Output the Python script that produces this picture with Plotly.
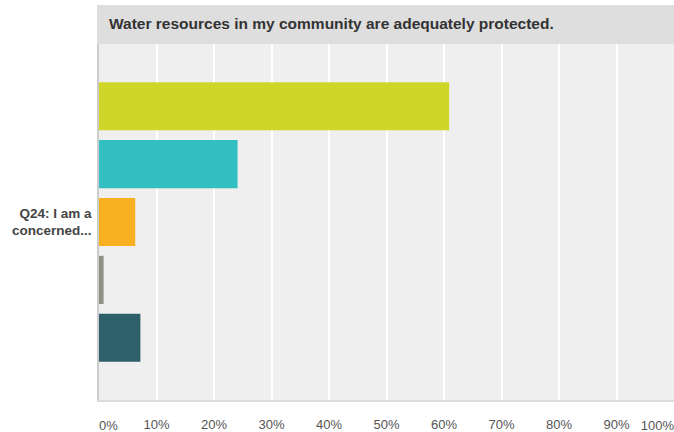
import plotly.graph_objects as go

# ---- data ----
question = "Q24: I am a<br>concerned..."
answer_names = ["Answer 1", "Answer 2", "Answer 3", "Answer 4", "Answer 5"]
values = [60.9, 24.1, 6.3, 0.8, 7.2]
colors = ["#CFD62A", "#33BEC0", "#F8B020", "#8F9182", "#2E606C"]
title_text = "Water resources in my community are adequately protected."
grid_vals = [0, 10, 20, 30, 40, 50, 60, 70, 80, 90, 100]
mid_labels = ["", "10%", "20%", "30%", "40%", "50%", "60%", "70%", "80%", "90%", ""]
first_tick, first_label = 0, "0%"
last_tick, last_label = 100, "100%"

W, H = 674, 432
L, R, T, B = 99, 0, 44, 32
plot_w = W - L - R
plot_h = H - T - B

FONT = "Liberation Sans, Arial, Helvetica, sans-serif"
tickfont = dict(family=FONT, size=13, color="#555555")

fig = go.Figure()
for name, v, c in zip(answer_names, values, colors):
    fig.add_trace(go.Bar(
        y=[question], x=[v], orientation="h", name=name,
        marker=dict(color=c, line=dict(width=0)),
        hovertemplate="%{x:.1f}%<extra>" + name + "</extra>",
    ))

def px_to_paper_x(px):
    return (px - L) / plot_w

def px_to_paper_y(py):
    return 1 + (T - py) / plot_h

label_axis = dict(
    overlaying="x", anchor="free", position=0, side="bottom", range=[0, 100],
    showgrid=False, zeroline=False, showline=False, ticks="",
    tickfont=tickfont, ticklabelstandoff=16, ticklabeloverflow="allow",
)

fig.update_layout(
    width=W, height=H,
    margin=dict(l=L, r=R, t=T, b=B, autoexpand=False),
    paper_bgcolor="white",
    plot_bgcolor="#EFEFEF",
    barmode="group",
    bargap=0.187,
    bargroupgap=0.169,
    showlegend=False,
    xaxis=dict(
        range=[0, 100], tickvals=grid_vals, ticktext=mid_labels,
        tickfont=tickfont, ticks="", ticklabelstandoff=11,
        showgrid=True, gridcolor="white", gridwidth=2,
        zeroline=False, showline=True, linecolor="#DCDCDC", linewidth=2,
    ),
    xaxis2=dict(label_axis, tickvals=[first_tick], ticktext=[first_label],
                ticklabelposition="outside right"),
    xaxis3=dict(label_axis, tickvals=[last_tick], ticktext=[last_label],
                ticklabelposition="outside left"),
    yaxis=dict(
        autorange="reversed", showgrid=False, zeroline=False,
        showline=True, linecolor="#CCCCCC", linewidth=1.5, ticks="",
        ticklabelstandoff=3,
        tickfont=dict(family=FONT, size=13.5, color="#444444", weight="bold"),
    ),
    shapes=[dict(
        type="rect", xref="paper", yref="paper",
        x0=px_to_paper_x(97), x1=1, y0=1, y1=px_to_paper_y(5),
        fillcolor="#DEDEDE", line=dict(width=0), layer="below",
    )],
    annotations=[dict(
        text="<b>" + title_text + "</b>", xref="paper", yref="paper",
        x=px_to_paper_x(107), y=px_to_paper_y(23),
        xanchor="left", yanchor="middle", showarrow=False,
        font=dict(family=FONT, size=15.5, color="#333333"),
    )],
)

# invisible traces so the label-only axes render
fig.add_trace(go.Scatter(x=[None], y=[None], xaxis="x2", showlegend=False, hoverinfo="skip"))
fig.add_trace(go.Scatter(x=[None], y=[None], xaxis="x3", showlegend=False, hoverinfo="skip"))

fig.write_html(
    "out.html",
    config={"displayModeBar": False},
    post_script="document.body.style.margin='0';document.body.style.overflow='hidden';",
)
